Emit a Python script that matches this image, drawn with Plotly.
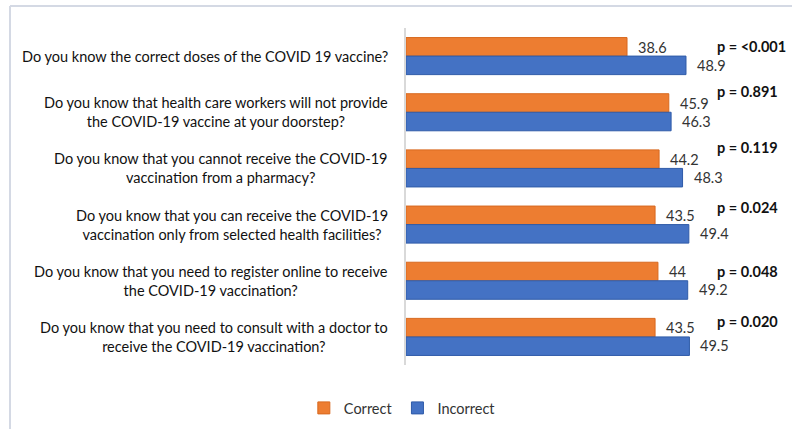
import plotly.graph_objects as go

questions = [
    "Do you know the correct doses of the COVID 19 vaccine?",
    "Do you know that health care workers will not provide<br>the COVID-19 vaccine at your doorstep?",
    "Do you know that you cannot receive the COVID-19<br>vaccination from a pharmacy?",
    "Do you know that you can receive the COVID-19<br>vaccination only from selected health facilities?",
    "Do you know that you need to register online to receive<br>the COVID-19 vaccination?",
    "Do you know that you need to consult with a doctor to<br>receive the COVID-19 vaccination?",
]
correct = [38.6, 45.9, 44.2, 43.5, 44, 43.5]
incorrect = [48.9, 46.3, 48.3, 49.4, 49.2, 49.5]
p_values = ["p = <0.001", "p = 0.891", "p = 0.119", "p = 0.024", "p = 0.048", "p = 0.020"]

FONT = "Lato"
ORANGE = "#ED7D31"
BLUE = "#4472C4"

fig = go.Figure()
fig.add_trace(go.Bar(
    y=questions, x=correct, name="Correct", orientation="h",
    marker=dict(color=ORANGE, line=dict(color="#D8691F", width=1)),
))
fig.add_trace(go.Bar(
    y=questions, x=incorrect, name="Incorrect", orientation="h",
    marker=dict(color=BLUE, line=dict(color="#2F5BA8", width=1)),
))

# value labels next to bar ends
for q, c, i in zip(questions, correct, incorrect):
    fig.add_annotation(x=c, y=q, text=f"{c:g}", xanchor="left", xshift=9,
                       yshift=9, showarrow=False,
                       font=dict(family=FONT, size=14.5, color="#333"))
    fig.add_annotation(x=i, y=q, text=f"{i:g}", xanchor="left", xshift=9,
                       yshift=-9, showarrow=False,
                       font=dict(family=FONT, size=14.5, color="#333"))

# p-values, bold, column on the right
p_shift = [10, 21, 21, 17, 9, 15]
for q, p, s in zip(questions, p_values, p_shift):
    fig.add_annotation(x=0.87, xref="paper", y=q, text=f"<b>{p}</b>",
                       xanchor="left", yshift=s, showarrow=False,
                       font=dict(family=FONT, size=14.5, color="#111"))

# category labels, centred lines, right aligned to the axis
for q in questions:
    fig.add_annotation(x=-0.045, xref="paper", y=q, text=q, xanchor="right",
                       align="center", showarrow=False,
                       font=dict(family=FONT, size=14.5, color="#111"))

# outer frame: only top and left edges show
fig.add_shape(type="line", xref="paper", yref="paper",
              x0=-1.1155, x1=1.1, y0=1.0653, y1=1.0653,
              line=dict(color="#D4D9E4", width=2))
fig.add_shape(type="line", xref="paper", yref="paper",
              x0=-1.1155, x1=-1.1155, y0=1.0653, y1=-0.2,
              line=dict(color="#D4D9E4", width=2))

fig.update_layout(
    width=792, height=429,
    margin=dict(l=406, r=31, t=28, b=64),
    barmode="group", bargap=0.34, bargroupgap=0,
    plot_bgcolor="white", paper_bgcolor="white",
    font=dict(family=FONT, size=14, color="#333"),
    xaxis=dict(range=[0, 62], showticklabels=False, showgrid=False,
               zeroline=False, showline=False),
    yaxis=dict(autorange="reversed", showticklabels=False, showgrid=False,
               showline=True, linecolor="#D9D9D9", linewidth=1.5, ticks=""),
    legend=dict(orientation="h", xref="container", yref="container",
                x=0.508, xanchor="center", y=0.049, yanchor="middle",
                font=dict(family=FONT, size=14.5, color="#333"),
                itemwidth=30),
    showlegend=True,
)

fig.write_html("out.html", config={"displayModeBar": False},
               post_script="document.body.style.margin='0';")
